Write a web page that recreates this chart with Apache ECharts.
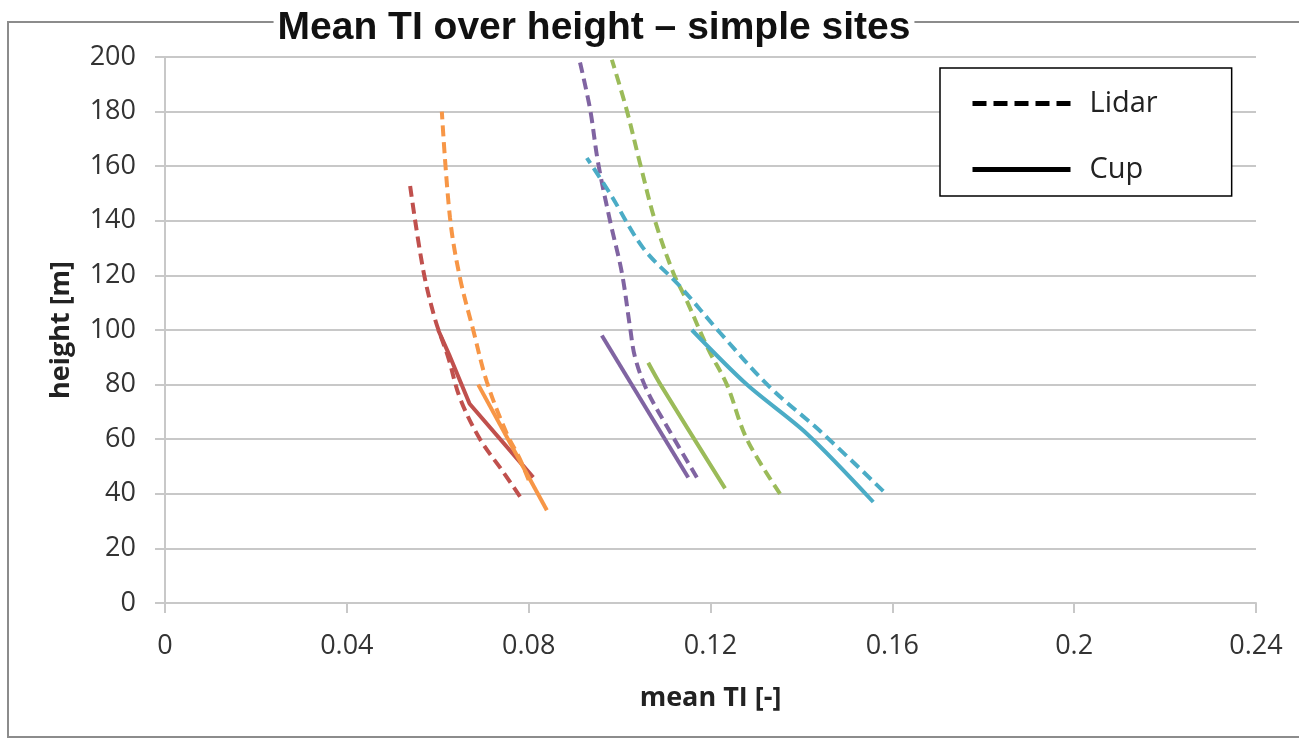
<!DOCTYPE html>
<html>
<head>
<meta charset="utf-8">
<script src="https://cdn.jsdelivr.net/npm/echarts@6/dist/echarts.min.js"></script>
<style>
  html, body { margin: 0; padding: 0; background: #fff; }
  #chart { width: 1299px; height: 738px; }
</style>
</head>
<body>
<div id="chart"></div>
<script>
// points are [mean TI, height m]
let redLidar = [[0.0781, 39], [0.0744, 48], [0.0693, 60], [0.0649, 75], [0.0623, 90], [0.0594, 104], [0.0568, 122], [0.0539, 153]]
let redCup = [[0.0601, 100], [0.0625, 91], [0.0670, 73], [0.0810, 46]]
let orangeLidar = [[0.0800, 45], [0.0780, 53], [0.0752, 62], [0.0708, 81], [0.0678, 100], [0.0649, 119], [0.0627, 141], [0.0609, 180]]
let orangeCup = [[0.0689, 80], [0.0840, 34]]
let purpleLidar = [[0.1170, 46], [0.1110, 63], [0.1060, 78], [0.1034, 90], [0.1023, 101], [0.1005, 121], [0.0979, 140], [0.0953, 161], [0.0935, 181], [0.0913, 198]]
let purpleCup = [[0.0961, 98], [0.1151, 46]]
let greenLidar = [[0.1353, 40], [0.1280, 60], [0.1236, 80], [0.1195, 93], [0.1147, 111], [0.1118, 121], [0.1078, 140], [0.1045, 161], [0.1015, 181], [0.0983, 199]]
let greenCup = [[0.1063, 88], [0.1090, 80], [0.1232, 42]]
let cyanLidar = [[0.1580, 41], [0.1441, 63], [0.1331, 79], [0.1221, 99], [0.1133, 116], [0.1052, 130], [0.0979, 150], [0.0928, 163]]
let cyanCup = [[0.1558, 37], [0.1412, 62], [0.1280, 80], [0.1159, 100]]
let legendNames = ['Lidar', 'Cup']

let chart = echarts.init(document.getElementById('chart'))

function lidar (data, color) {
  return {
    type: 'line', data: data, symbol: 'none', silent: true, smooth: 0.35,
    lineStyle: { color: color, width: 4, type: [11, 6] }
  }
}
function cup (data, color, smooth) {
  return {
    type: 'line', data: data, symbol: 'none', silent: true, smooth: smooth || false,
    lineStyle: { color: color, width: 4, type: 'solid' }
  }
}

let option = {
  animation: false,
  textStyle: { fontFamily: 'Open Sans' },
  graphic: [{
    type: 'rect', silent: true, z: -1,
    shape: { x: 8, y: 22, width: 1300, height: 715 },
    style: { fill: 'none', stroke: '#8c8c8c', lineWidth: 2 }
  }],
  title: {
    text: 'Mean TI over height – simple sites',
    left: 590, top: 9, textAlign: 'center',
    backgroundColor: '#fff', padding: [0, 4],
    textStyle: { fontFamily: 'Liberation Sans', fontWeight: 'bold', fontSize: 39, color: '#111' }
  },
  legend: {
    orient: 'vertical', left: 940, top: 68,
    padding: [21, 74, 12, 30], itemGap: 37,
    itemWidth: 98, itemHeight: 10,
    borderColor: '#000', borderWidth: 1.5, backgroundColor: '#fff',
    itemStyle: { opacity: 0 },
    data: [
      { name: legendNames[0], lineStyle: { color: '#000', width: 5, type: [14, 7] } },
      { name: legendNames[1], lineStyle: { color: '#000', width: 5, type: 'solid' } }
    ],
    textStyle: { fontFamily: 'Open Sans', fontSize: 29, color: '#222', padding: [0, 0, 0, 14] }
  },
  grid: { left: 165, right: 43, top: 57, bottom: 135 },
  xAxis: {
    type: 'value', min: 0, max: 0.24, interval: 0.04,
    name: 'mean TI [-]', nameLocation: 'middle', nameGap: 82,
    nameTextStyle: { fontFamily: 'Open Sans', fontWeight: 'bold', fontSize: 27, color: '#222' },
    axisLine: { lineStyle: { color: '#c8c8c8', width: 2 } },
    axisTick: { show: true, length: 10, lineStyle: { color: '#c8c8c8', width: 2 } },
    axisLabel: { fontSize: 27, color: '#333', margin: 30, formatter: v => String(+v.toFixed(2)) },
    splitLine: { show: false }
  },
  yAxis: {
    type: 'value', min: 0, max: 200, interval: 20,
    name: 'height [m]', nameLocation: 'middle', nameGap: 90,
    nameTextStyle: { fontFamily: 'Open Sans', fontWeight: 'bold', fontSize: 27, color: '#222' },
    axisLine: { show: true, lineStyle: { color: '#c8c8c8', width: 2 } },
    axisTick: { show: true, length: 10, lineStyle: { color: '#c8c8c8', width: 2 } },
    axisLabel: { fontSize: 27, color: '#333', margin: 29 },
    splitLine: { lineStyle: { color: '#c8c8c8', width: 2 } }
  },
  series: [
    lidar(redLidar, '#C0504D'), cup(redCup, '#C0504D'),
    lidar(orangeLidar, '#F79646'), cup(orangeCup, '#F79646'),
    lidar(purpleLidar, '#8064A2'), cup(purpleCup, '#8064A2'),
    lidar(greenLidar, '#9BBB59'), cup(greenCup, '#9BBB59', 0.3),
    lidar(cyanLidar, '#4BACC6'), cup(cyanCup, '#4BACC6', 0.3),
    { name: legendNames[0], type: 'line', data: [], symbol: 'none', itemStyle: { color: '#000' }, lineStyle: { color: '#000', width: 5, type: [14, 7] } },
    { name: legendNames[1], type: 'line', data: [], symbol: 'none', itemStyle: { color: '#000' }, lineStyle: { color: '#000', width: 5, type: 'solid' } }
  ]
}

chart.setOption(option)
window.addEventListener('resize', () => chart.resize())
</script>
</body>
</html>
